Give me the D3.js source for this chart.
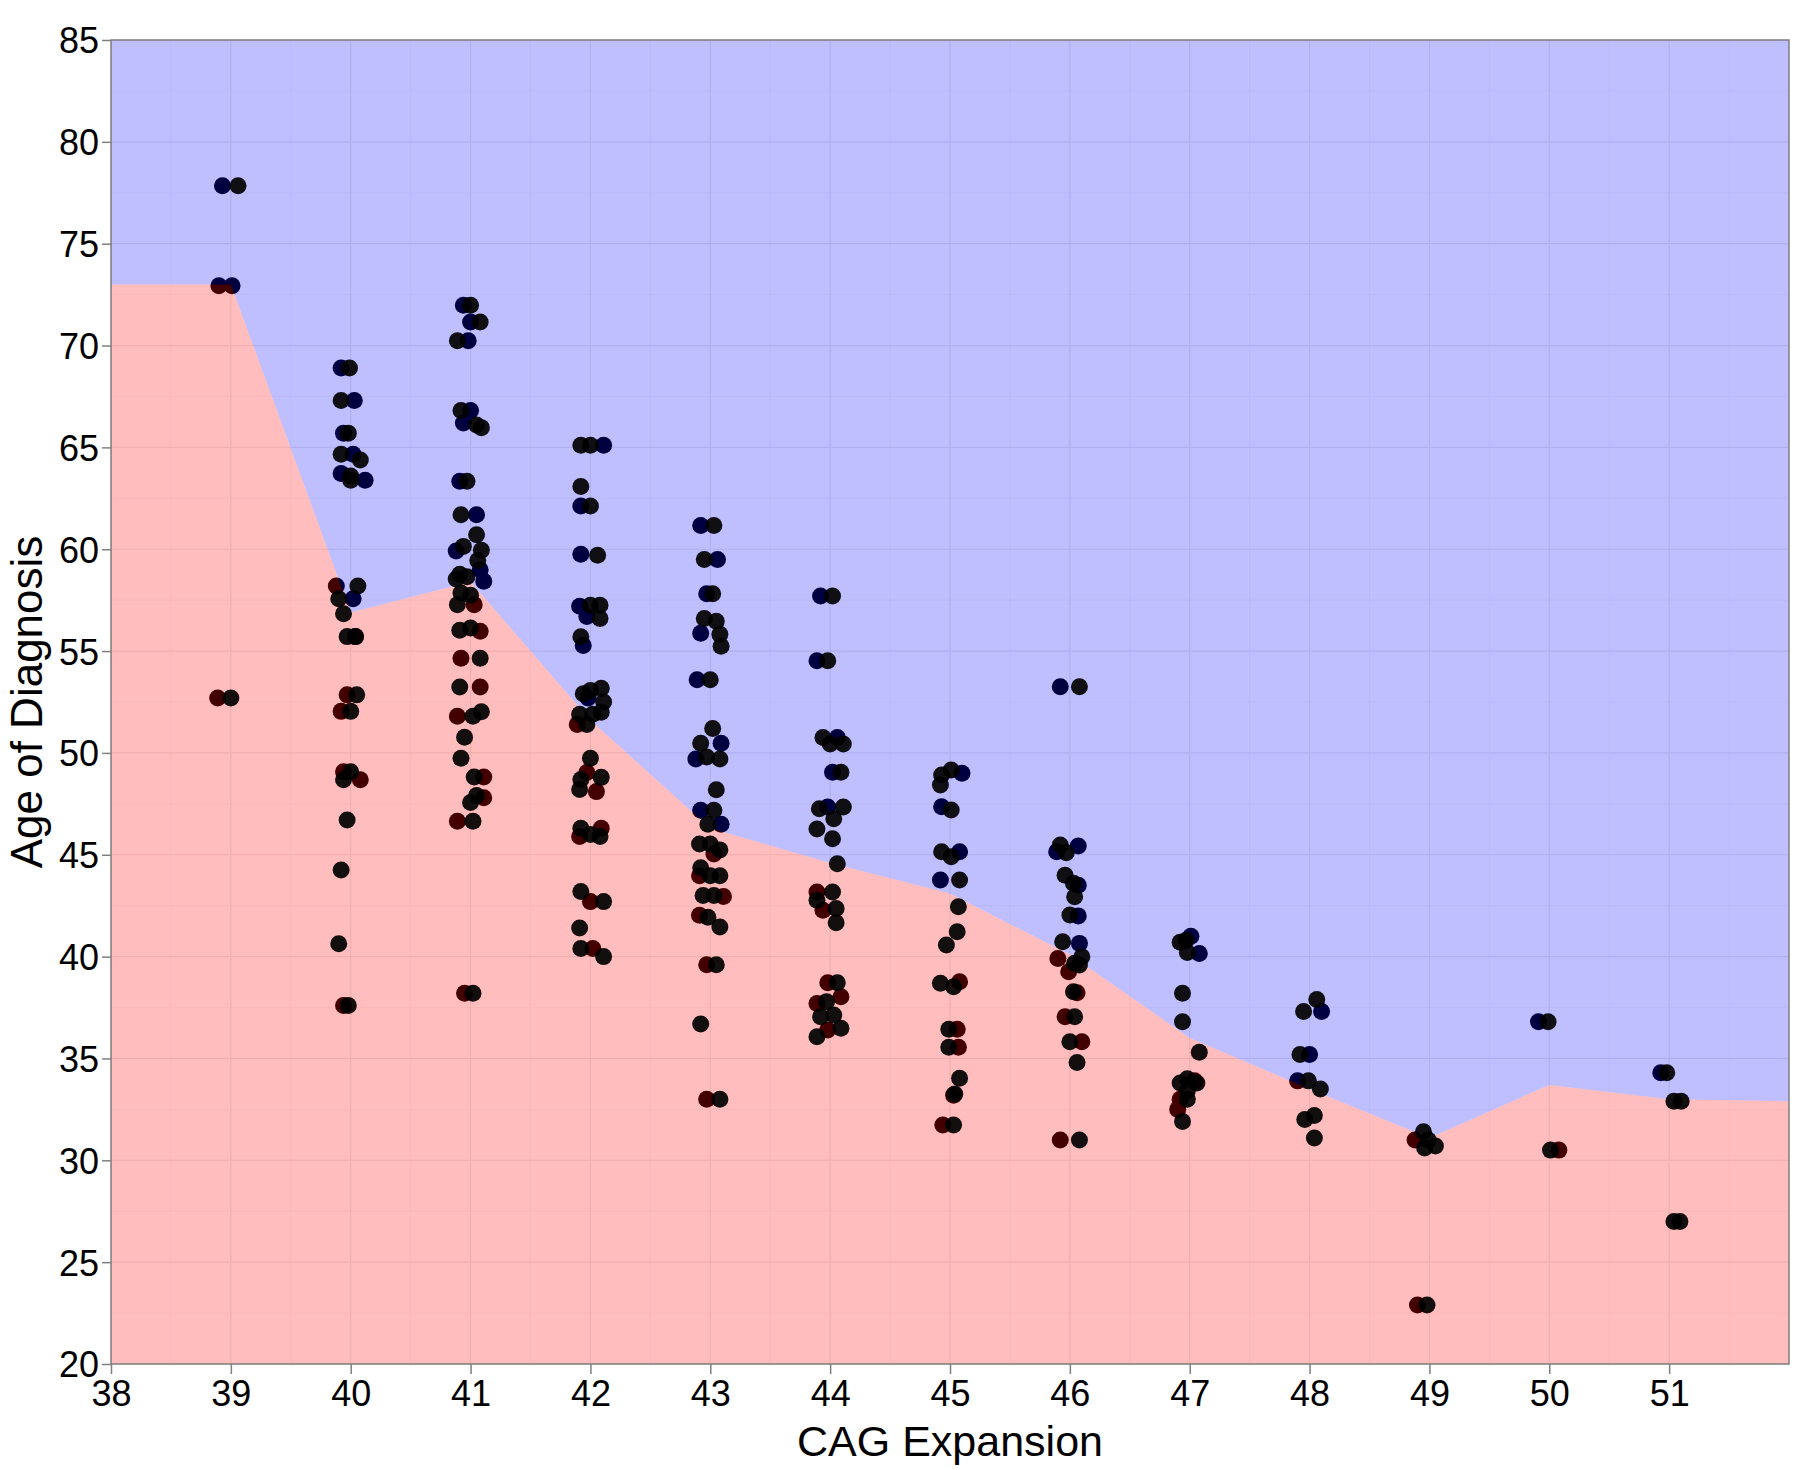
<!DOCTYPE html>
<html><head><meta charset="utf-8">
<script src="https://cdn.jsdelivr.net/npm/d3@7"></script>
<style>
html,body{margin:0;padding:0;background:#fff;}
svg text{font-family:"Liberation Sans",Arial,Helvetica,sans-serif;}
</style></head>
<body><svg id="chart" width="1800" height="1470"></svg>
<script>
// ---- data ----
const xTicks = [38,39,40,41,42,43,44,45,46,47,48,49,50,51];
const yTicks = [20,25,30,35,40,45,50,55,60,65,70,75,80,85];
// classification boundary (age at each CAG)
const boundaryCag = [38,39,40,41,42,43,44,45,46,47,48,49,50,51,52];
const boundaryAge = [73,73,56.9,58.4,51.6,46.3,44.6,43.1,40.1,36.0,33.5,31.1,33.7,33.0,32.9];

// points layer drawn under the shading (jittered CAG, age)
const underCag = [38.93,38.90,39.01,38.89,
 39.92,40.03,39.94,40.02,39.92,40.12,39.88,40.02,40.04,39.97,39.92,39.94,40.08,39.94,
 40.94,41.00,40.98,41.00,40.94,40.91,41.05,40.88,41.08,41.11,41.03,41.08,40.92,41.08,40.89,41.11,41.11,40.89,40.95,
 42.11,41.92,41.92,41.91,41.97,41.94,41.98,41.89,41.97,42.05,42.09,41.91,42.00,42.02,
 42.92,43.06,42.97,42.92,42.89,43.09,42.88,42.92,43.09,43.03,42.91,43.11,42.91,42.97,42.97,
 43.92,43.89,44.06,44.02,43.98,43.89,43.94,43.98,44.09,43.89,43.98,
 45.10,44.93,45.08,44.92,45.08,45.06,45.07,45.03,44.94,
 45.92,46.07,45.89,46.07,46.07,46.08,45.90,45.99,46.06,45.96,46.10,45.92,
 47.01,47.08,47.04,46.92,46.90,
 48.10,48.00,47.90,
 48.88,48.90,
 49.91,50.08,
 50.93];
const underAge = [77.84,72.94,72.94,52.70,
 68.90,67.30,65.70,64.66,63.72,63.39,58.19,57.57,55.71,52.85,52.04,49.08,48.68,37.60,
 71.98,71.16,70.24,66.81,66.20,63.34,61.69,59.91,58.99,58.43,57.28,55.97,54.65,53.24,51.80,48.82,47.80,46.65,38.20,
 65.10,62.12,59.75,57.20,56.70,55.27,52.70,51.40,49.04,48.10,46.30,45.90,42.70,40.40,
 61.16,59.50,57.82,55.88,53.59,50.48,49.70,47.18,46.50,45.04,43.97,42.95,42.03,39.60,33.00,
 57.70,54.52,50.76,49.05,47.34,43.17,42.28,38.72,38.03,37.70,36.40,
 49.00,47.36,45.15,43.76,38.77,36.43,35.55,33.20,31.73,
 53.25,45.43,45.15,43.50,42.00,40.65,39.91,39.26,38.23,37.05,35.82,31.00,
 41.00,40.15,33.90,33.00,32.50,
 37.30,35.20,33.90,
 31.00,22.90,
 36.80,30.50,
 34.30];

// points layer drawn over the shading (jittered CAG, age)
const overCag = [39.06,39.00,
 39.99,39.92,39.98,39.92,40.08,40.00,40.00,40.06,39.90,39.94,39.97,40.04,40.05,40.00,40.00,39.94,39.97,39.92,39.90,39.98,
 41.00,41.08,40.89,40.92,41.05,41.09,40.97,40.92,41.05,40.94,41.09,41.06,40.91,40.88,40.97,40.92,41.00,40.89,40.91,41.00,41.08,40.91,41.02,41.09,40.95,40.92,41.03,41.05,41.00,41.02,41.02,
 41.92,42.00,41.92,42.00,42.06,42.00,42.08,42.08,41.92,42.00,42.09,41.94,42.11,41.91,42.02,42.09,41.97,42.00,41.92,42.09,41.91,41.92,42.00,42.08,41.92,42.11,41.91,41.92,42.11,
 43.03,42.95,43.02,42.95,43.05,43.08,43.09,43.00,43.02,42.92,42.97,43.08,43.05,43.03,42.98,42.91,43.00,43.08,42.92,43.00,43.08,42.94,43.03,42.98,43.08,43.05,42.92,43.08,
 44.02,43.98,43.94,44.00,44.11,44.09,43.91,44.11,44.03,43.89,44.02,44.06,44.02,43.89,44.05,44.05,44.06,43.97,43.92,44.03,44.09,43.89,
 44.93,45.01,44.92,45.01,44.93,45.01,45.08,45.07,45.06,44.97,44.92,45.03,44.99,44.99,45.08,45.04,45.03,
 46.08,45.92,45.97,45.96,46.03,46.04,46.00,45.94,46.10,46.04,46.08,46.03,46.04,46.00,46.06,46.08,
 46.92,46.97,46.98,46.94,46.94,47.08,46.98,46.92,47.06,46.98,46.98,46.94,
 47.95,48.06,47.92,47.99,48.09,47.96,48.04,48.04,
 48.95,48.99,48.96,49.05,48.98,
 49.99,50.01,
 50.98,51.04,51.10,51.04,51.09];
const overAge = [77.84,52.70,
 68.90,67.30,65.70,64.66,64.38,63.60,63.39,58.19,57.57,56.83,55.71,55.71,52.85,52.04,49.08,48.68,46.71,44.25,40.63,37.60,
 71.98,71.16,70.24,66.81,66.10,65.97,63.34,61.69,60.71,60.14,59.95,59.45,58.77,58.54,58.65,57.85,57.74,57.28,56.02,56.13,54.65,53.24,51.80,52.02,50.77,49.74,48.82,47.91,47.57,46.65,38.20,
 65.10,65.10,63.08,62.12,59.70,57.25,57.25,56.60,55.70,53.07,53.17,52.90,52.50,51.90,51.90,52.00,51.40,49.74,48.70,48.80,48.20,46.30,46.00,45.90,43.20,42.70,41.40,40.40,40.00,
 61.16,59.50,57.82,56.60,56.46,55.82,55.24,53.59,51.20,50.48,49.80,49.70,48.19,47.18,46.50,45.53,45.53,45.24,44.36,43.97,43.97,43.00,43.00,41.93,41.45,39.60,36.69,33.00,
 57.70,54.52,50.76,50.44,50.44,49.05,47.26,47.34,46.77,46.27,45.79,44.56,43.17,42.77,42.36,41.66,38.72,37.79,37.05,37.13,36.48,36.07,
 48.92,49.16,48.42,47.20,45.15,44.90,43.76,42.45,41.22,40.57,38.69,38.52,36.43,35.55,34.03,33.26,31.73,
 53.25,45.48,45.10,44.00,43.60,42.94,42.04,40.73,39.99,39.67,39.59,38.28,37.05,35.82,34.80,31.00,
 40.70,40.80,40.20,38.20,36.80,35.30,34.00,33.80,33.80,33.40,33.00,31.90,
 37.30,37.90,35.20,33.90,33.50,32.00,32.20,31.10,
 31.40,31.00,30.60,30.70,22.90,
 36.80,30.50,
 34.30,32.90,32.90,27.00,27.00];

// ---- chart ----
const W = 1800, H = 1470;
const m = {left:111, right:11, top:40, bottom:106};
const svg = d3.select('#chart');
const x = d3.scaleLinear().domain([38,52]).range([m.left, W-m.right]);
const y = d3.scaleLinear().domain([20,85]).range([H-m.bottom, m.top]);

const g = svg.append('g');
// panel background + grid
g.append('rect').attr('x',x(38)).attr('y',y(85)).attr('width',x(52)-x(38)).attr('height',y(20)-y(85)).attr('fill','#fff');
const minorX = d3.range(38.5,52,1), minorY = d3.range(22.5,85,5);
g.selectAll('.mnx').data(minorX).join('line').attr('x1',d=>x(d)).attr('x2',d=>x(d)).attr('y1',y(20)).attr('y2',y(85)).attr('stroke','#f8f8f8').attr('stroke-width',1);
g.selectAll('.mny').data(minorY).join('line').attr('y1',d=>y(d)).attr('y2',d=>y(d)).attr('x1',x(38)).attr('x2',x(52)).attr('stroke','#f8f8f8').attr('stroke-width',1);
g.selectAll('.mjx').data(xTicks).join('line').attr('x1',d=>x(d)).attr('x2',d=>x(d)).attr('y1',y(20)).attr('y2',y(85)).attr('stroke','#ececec').attr('stroke-width',1.2);
g.selectAll('.mjy').data(yTicks).join('line').attr('y1',d=>y(d)).attr('y2',d=>y(d)).attr('x1',x(38)).attr('x2',x(52)).attr('stroke','#ececec').attr('stroke-width',1.2);

const bnd = boundaryCag.map((c,i)=>[c,boundaryAge[i]]);

// under layer points
g.selectAll('.under').data(underCag.map((c,i)=>[c,underAge[i]])).join('circle')
  .attr('cx',d=>x(d[0])).attr('cy',d=>y(d[1])).attr('r',8.5).attr('fill','#000');

// shading
const redArea = d3.area().x(d=>x(d[0])).y0(y(20)).y1(d=>y(d[1]));
const blueArea = d3.area().x(d=>x(d[0])).y0(d=>y(d[1])).y1(y(85));
g.append('path').datum(bnd).attr('d',redArea).attr('fill','rgb(255,0,0)').attr('fill-opacity',0.26);
g.append('path').datum(bnd).attr('d',blueArea).attr('fill','rgb(0,0,255)').attr('fill-opacity',0.25);

// over layer points
g.selectAll('.over').data(overCag.map((c,i)=>[c,overAge[i]])).join('circle')
  .attr('cx',d=>x(d[0])).attr('cy',d=>y(d[1])).attr('r',8.5).attr('fill','#000').attr('fill-opacity',0.92);

// panel border
g.append('rect').attr('x',x(38)).attr('y',y(85)).attr('width',x(52)-x(38)).attr('height',y(20)-y(85))
  .attr('fill','none').attr('stroke','#7f7f7f').attr('stroke-width',1.5);

// axes
const xAxis = svg.append('g').attr('transform',`translate(0,${y(20)})`)
  .call(d3.axisBottom(x).tickValues(xTicks).tickFormat(d3.format('d')).tickSize(10).tickPadding(6));
const yAxis = svg.append('g').attr('transform',`translate(${x(38)},0)`)
  .call(d3.axisLeft(y).tickValues(yTicks).tickFormat(d3.format('d')).tickSize(9).tickPadding(3));
[xAxis,yAxis].forEach(a=>{
  a.select('.domain').remove();
  a.selectAll('.tick line').attr('stroke','#7f7f7f').attr('stroke-width',1.5);
  a.selectAll('.tick text').attr('fill','#000').style('font-size','36px');
});
yAxis.selectAll('.tick text').attr('dy','0.36em');

svg.append('text').attr('x',(x(38)+x(52))/2).attr('y',1456).attr('text-anchor','middle')
  .style('font-size','43px').attr('fill','#000').text('CAG Expansion');
svg.append('text').attr('transform',`translate(42,${(y(20)+y(85))/2}) rotate(-90)`).attr('text-anchor','middle')
  .style('font-size','44px').attr('fill','#000').text('Age of Diagnosis');
</script></body></html>
